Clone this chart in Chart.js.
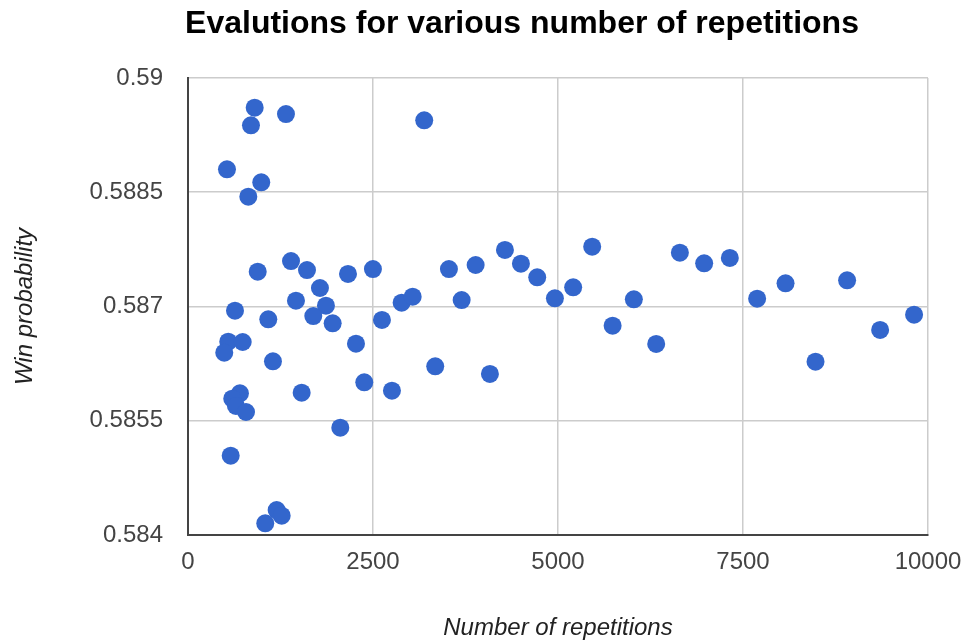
<!DOCTYPE html>
<html>
<head>
<meta charset="utf-8">
<title>Evalutions for various number of repetitions</title>
<script src="https://cdn.jsdelivr.net/npm/chart.js@4.4.0/dist/chart.umd.min.js"></script>
<style>
    html, body { margin: 0; padding: 0; background: #fff; }
    #wrap { width: 965px; height: 640px; }
</style>
</head>
<body>
<div id="wrap"><canvas id="evalChart" width="965" height="640"></canvas></div>
<script>
// values
const repetitions = [
    901, 851, 1324, 3192, 527, 990, 815, 942, 1392, 1608,
    2162, 2499, 1783, 1459, 1864, 2887, 3036, 635, 1085, 1693,
    1955, 2621, 544, 739, 490, 2270, 1148, 3341, 702, 598,
    648, 784, 1536, 2382, 2756, 2058, 577, 1198, 1266, 1044,
    3526, 3887, 3698, 4283, 4499, 4719, 4958, 5205, 5462, 5738,
    6025, 6327, 6647, 6975, 7322, 7691, 8075, 8907, 8480, 9353,
    9812, 4080
];
const winProbability = [
    0.58961, 0.589379, 0.589527, 0.589445, 0.588801, 0.588631, 0.588442, 0.587457, 0.587597, 0.587479,
    0.587427, 0.587492, 0.587243, 0.587076, 0.58701, 0.58705, 0.587129, 0.586945, 0.586832, 0.586875,
    0.586779, 0.586823, 0.586538, 0.586534, 0.586393, 0.586512, 0.586281, 0.586215, 0.58586, 0.58579,
    0.585694, 0.585615, 0.585868, 0.586005, 0.585895, 0.585409, 0.585041, 0.584328, 0.584253, 0.584154,
    0.587492, 0.587545, 0.587085, 0.587742, 0.587562, 0.587383, 0.587108, 0.587252, 0.587785, 0.586748,
    0.587095, 0.586508, 0.587706, 0.587567, 0.587637, 0.587102, 0.587305, 0.587344, 0.586275, 0.586692,
    0.586892, 0.586114
];
const xTicks = [0, 2500, 5000, 7500, 10000];
const yTicks = [0.584, 0.5855, 0.587, 0.5885, 0.59];

const FONT = '"Liberation Sans", Arial, sans-serif';

// title sits centred a bit right of the canvas middle
const shiftTitle = {
    id: 'shiftTitle',
    afterLayout(chart) {
        if (chart.titleBlock) chart.titleBlock.left = 116;
    }
};

function initChart() {
    const ctx = document.getElementById('evalChart');
    const points = repetitions.map((r, i) => ({ x: r, y: winProbability[i] }));

    new Chart(ctx, {
        type: 'scatter',
        data: {
            datasets: [{
                label: 'Win probability',
                data: points,
                backgroundColor: '#3366CC',
                borderWidth: 0,
                pointRadius: 9,
                pointHoverRadius: 9
            }]
        },
        options: {
            responsive: false,
            animation: false,
            layout: { padding: { top: 0, right: 37, bottom: -3, left: 0 } },
            plugins: {
                legend: { display: false },
                tooltip: { enabled: false },
                title: {
                    display: true,
                    text: 'Evalutions for various number of repetitions',
                    color: '#000',
                    font: { family: FONT, size: 32, weight: 'bold' },
                    padding: { top: 5, bottom: 34.6 }
                }
            },
            scales: {
                x: {
                    type: 'linear',
                    min: 0,
                    max: 10000,
                    afterBuildTicks: scale => { scale.ticks = xTicks.map(v => ({ value: v })); },
                    afterFit: scale => {
                        scale.height = 108;
                        scale.paddingLeft = 0;
                        scale.paddingRight = 0;
                    },
                    grid: { color: '#cccccc', lineWidth: 1.5, drawTicks: false },
                    border: { display: true, color: '#444', width: 2 },
                    ticks: {
                        color: '#444',
                        padding: 13,
                        font: { family: FONT, size: 24 },
                        callback: v => String(v)
                    },
                    title: {
                        display: true,
                        text: 'Number of repetitions',
                        color: '#222',
                        font: { family: FONT, size: 24, style: 'italic' },
                        padding: { top: 0, bottom: 0 }
                    }
                },
                y: {
                    type: 'linear',
                    min: 0.584,
                    max: 0.59,
                    afterBuildTicks: scale => { scale.ticks = yTicks.map(v => ({ value: v })); },
                    afterFit: scale => { scale.width = 188; },
                    grid: { color: '#cccccc', lineWidth: 1.5, drawTicks: false },
                    border: { display: true, color: '#444', width: 2 },
                    ticks: {
                        color: '#444',
                        padding: 25,
                        font: { family: FONT, size: 24 },
                        callback: v => String(parseFloat(v.toFixed(4)))
                    },
                    title: {
                        display: true,
                        text: 'Win probability',
                        color: '#222',
                        font: { family: FONT, size: 24, style: 'italic' },
                        padding: { top: 11, bottom: 0 }
                    }
                }
            }
        },
        plugins: [shiftTitle]
    });
}

document.addEventListener('DOMContentLoaded', () => {
    initChart();
});
</script>
</body>
</html>
